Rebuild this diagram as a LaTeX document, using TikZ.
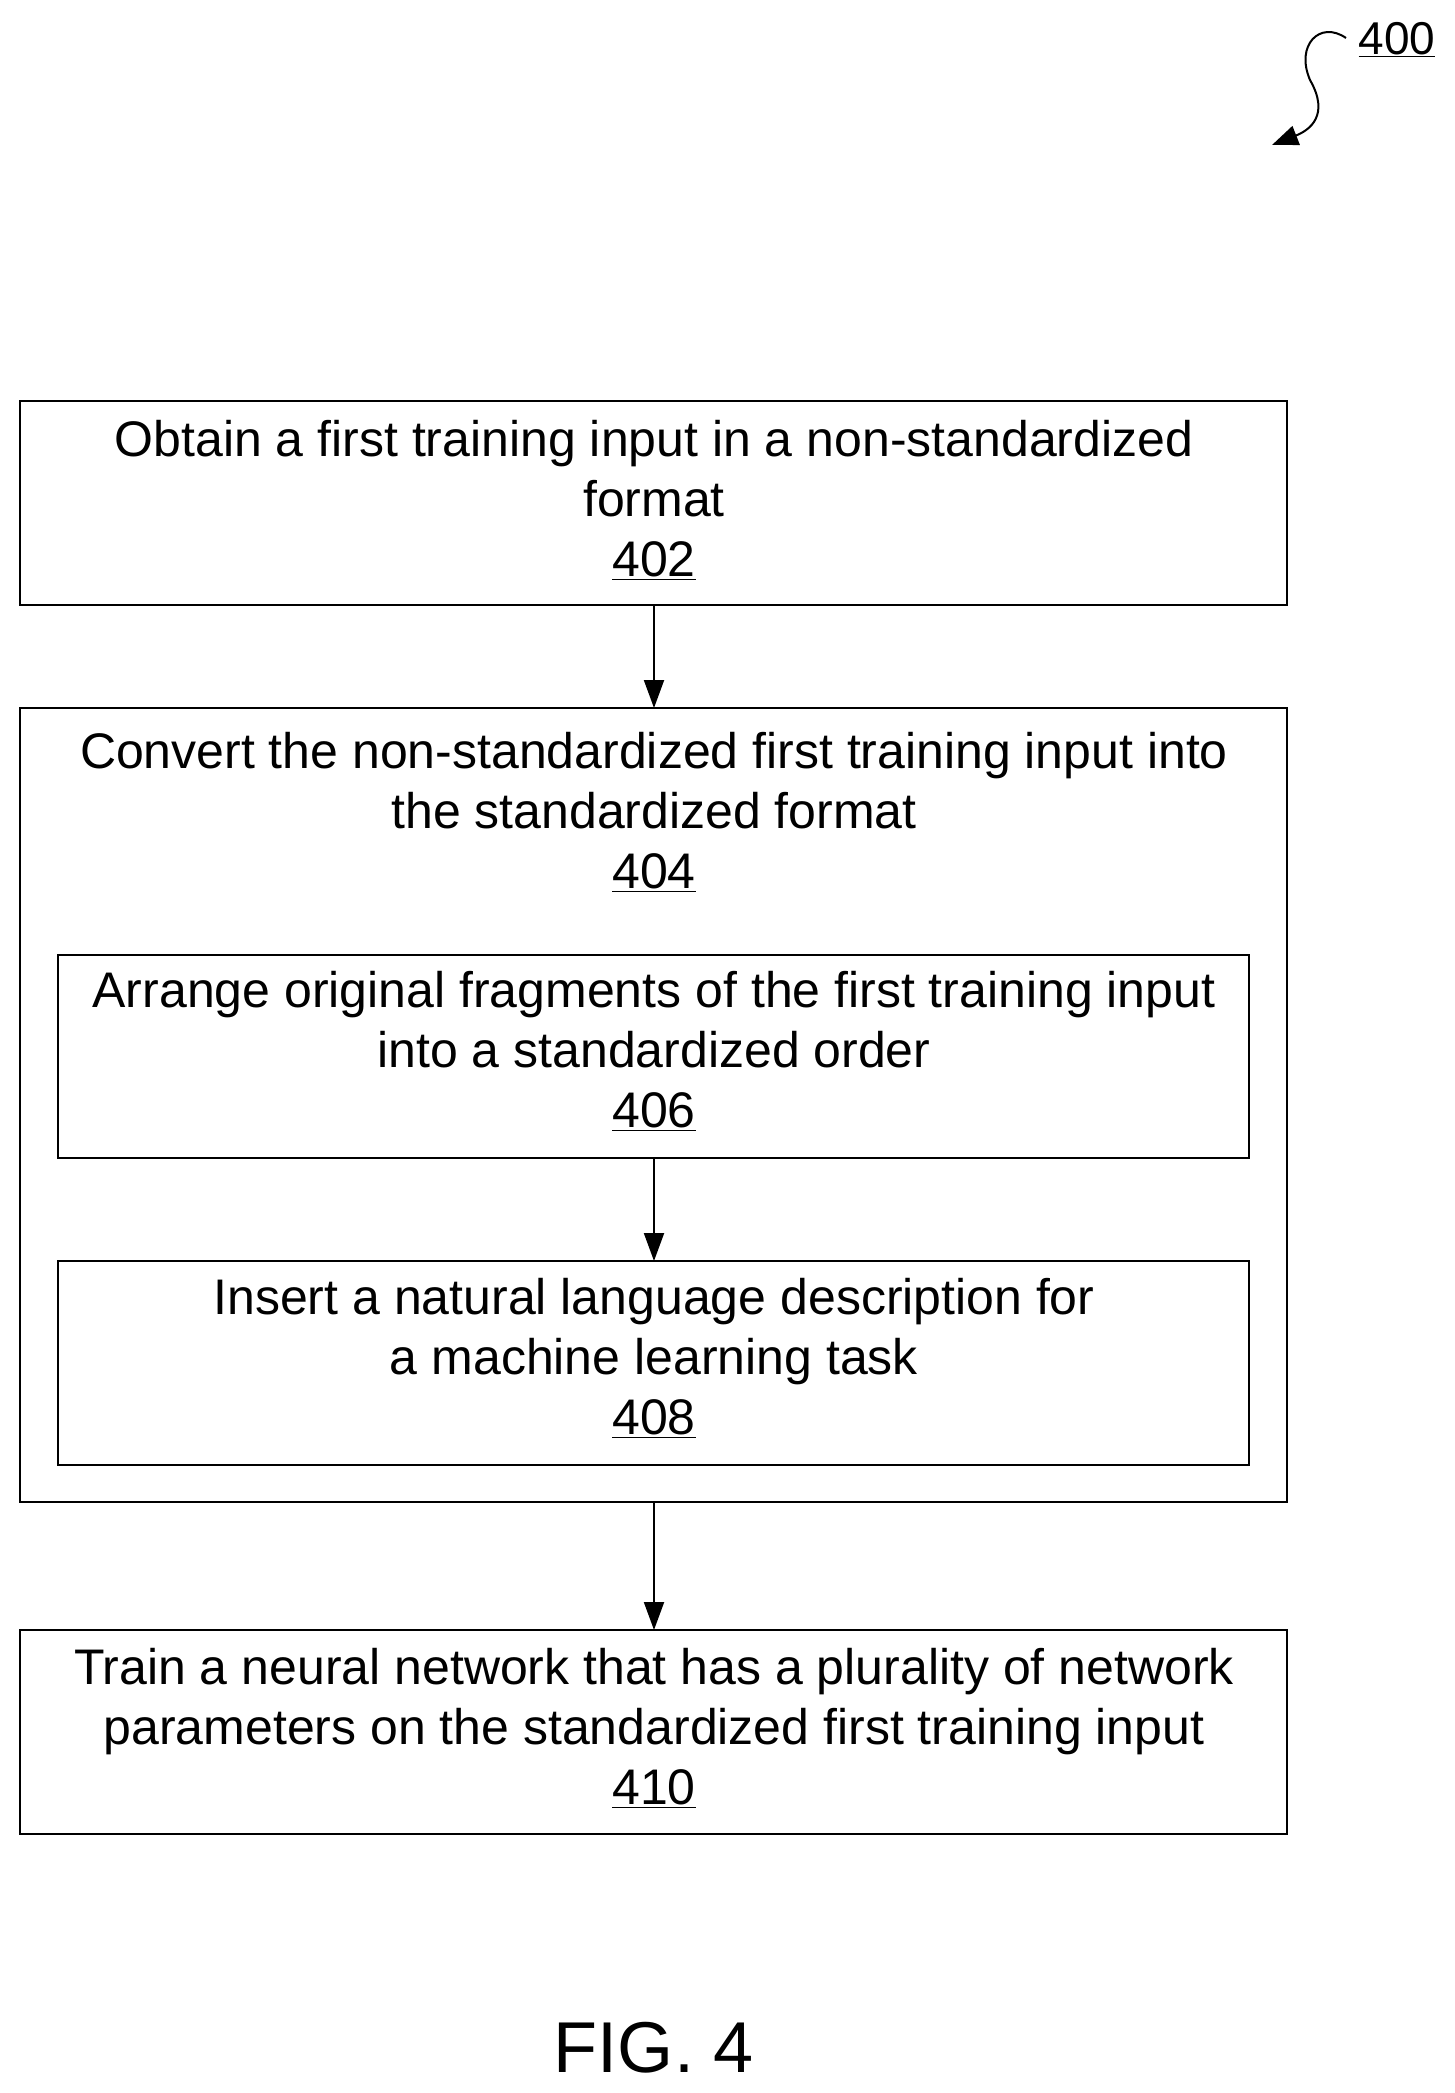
\documentclass[tikz,border=0pt]{standalone}
\usepackage{fontspec}
\setmainfont{Liberation Sans}
\usetikzlibrary{arrows.meta}
\begin{document}
\begin{tikzpicture}[x=1pt,y=-1pt,
  box/.style={draw,line width=1.5pt,inner sep=0pt},
  txt/.style={align=center,font=\fontsize{50}{60}\selectfont},
  arr/.style={line width=2pt,-{Triangle[length=28pt,width=20pt]}}]
\useasboundingbox (0,0) rectangle (1454,2093);
\draw[box] (20,401) rectangle (1287,605);
\node[txt] (t402) at (654,500) {Obtain a first training input in a non-standardized\\format\\\underline{402}};
\coordinate (b402) at (654,605);
\draw[box] (20,708) rectangle (1287,1502);
\coordinate (t404top) at (654,708);
\node[txt] (t404) at (654,812) {Convert the non-standardized first training input into\\the standardized format\\\underline{404}};
\draw[box] (58,955) rectangle (1249,1158);
\node[txt] (t406) at (654,1051) {Arrange original fragments of the first training input\\into a standardized order\\\underline{406}};
\coordinate (b406) at (654,1158);
\draw[box] (58,1261) rectangle (1249,1465);
\coordinate (t408top) at (654,1261);
\node[txt] (t408) at (654,1358) {Insert a natural language description for\\a machine learning task\\\underline{408}};
\coordinate (b404) at (654,1502);
\draw[box] (20,1630) rectangle (1287,1834);
\coordinate (t410top) at (654,1630);
\node[txt] (t410) at (654,1728) {Train a neural network that has a plurality of network\\parameters on the standardized first training input\\\underline{410}};
\draw[arr] (b402) -- (t404top);
\draw[arr] (b406) -- (t408top);
\draw[arr] (b404) -- (t410top);
\node[font=\fontsize{72}{80}\selectfont] (fig) at (654,2048) {FIG. 4};
\node[font=\fontsize{46}{50}\selectfont,anchor=west] (n400) at (1355,40) {\underline{400}};
\coordinate (s0) at (1346,38);
\coordinate (s1) at (1272,145);
\draw[line width=2pt,-{Triangle[length=26pt,width=20pt]}] (s0) .. controls (1320,20) and (1295,45) .. (1310,80) .. controls (1330,115) and (1310,130) .. (s1);
\end{tikzpicture}
\end{document}
